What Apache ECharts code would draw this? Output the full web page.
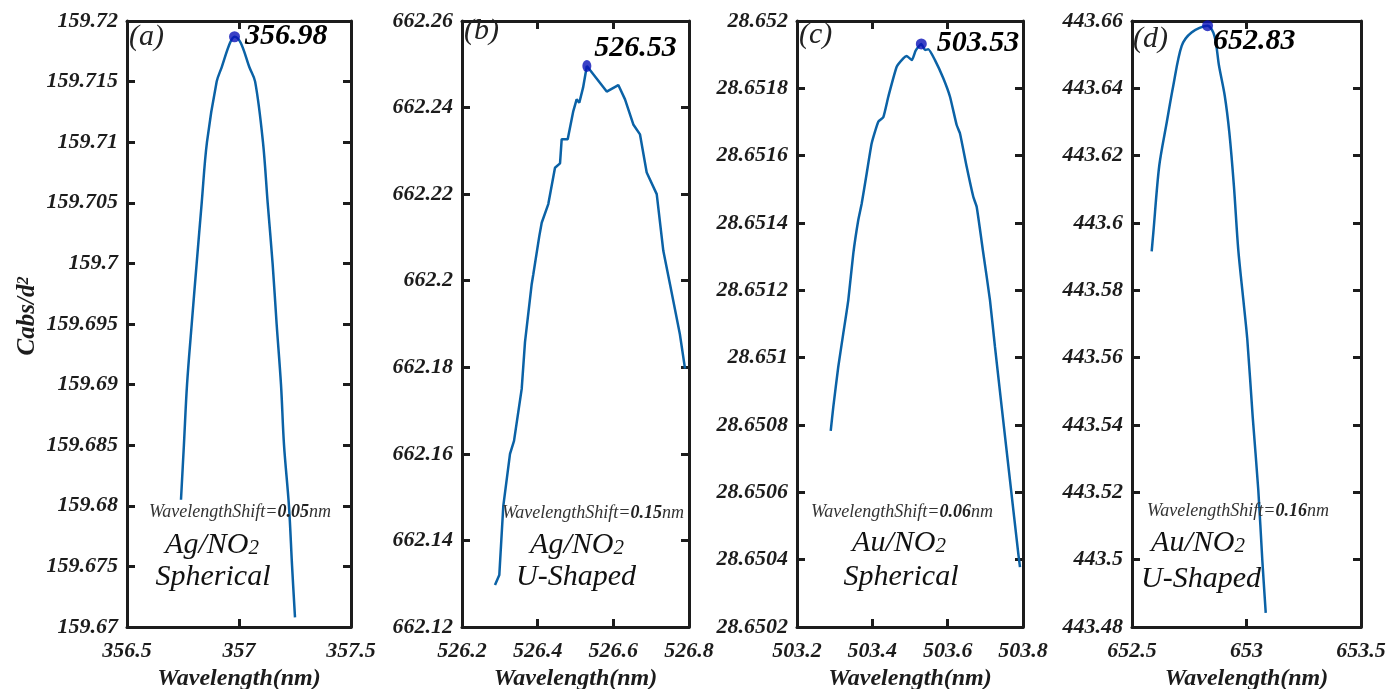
<!DOCTYPE html>
<html>
<head>
<meta charset="utf-8">
<script src="https://cdn.jsdelivr.net/npm/echarts@6/dist/echarts.min.js"></script>
<style>
  html, body { margin: 0; padding: 0; background: #fff; }
  #chart { width: 1386px; height: 689px; }
</style>
</head>
<body>
<div id="chart"></div>
<script>
// Normalised absorption (Cabs/d^2) around the plasmon resonance peak
// for four nanoparticle/NO2 configurations.

const panelLetters = ['(a)', '(b)', '(c)', '(d)'];
const materials = ['Ag/NO', 'Ag/NO', 'Au/NO', 'Au/NO'];
const shapes = ['Spherical', 'U-Shaped', 'Spherical', 'U-Shaped'];
const wavelengthShifts = ['0.05', '0.15', '0.06', '0.16'];

// Peak wavelength (nm) and peak Cabs/d^2 for each panel
const peakWavelengths = [356.98, 526.53, 503.53, 652.83];
const peakValues = [159.7187, 662.2496, 28.651932, 443.6586];

// Axis ranges: [min, max, step]
const xRanges = [[356.5, 357.5, 0.5], [526.2, 526.8, 0.2], [503.2, 503.8, 0.2], [652.5, 653.5, 0.5]];
const yRanges = [[159.67, 159.72, 0.005], [662.12, 662.26, 0.02], [28.6502, 28.652, 0.0002], [443.48, 443.66, 0.02]];

// Spectra: [wavelength (nm), Cabs/d^2]
const curveA = [
  [356.741, 159.6805], [356.754, 159.685], [356.768, 159.69], [356.789, 159.695],
  [356.811, 159.70], [356.8335, 159.705], [356.857, 159.71], [356.9004, 159.715],
  [356.923, 159.7162], [356.960, 159.7182], [356.98, 159.7187], [357.0075, 159.7182],
  [357.046, 159.7162], [357.072, 159.715], [357.107, 159.71], [357.128, 159.705],
  [357.150, 159.70], [357.168, 159.695], [357.1875, 159.69], [357.201, 159.685],
  [357.223, 159.68], [357.237, 159.675], [357.25, 159.6708]
];
const curveB = [
  [526.2872, 662.1297], [526.2986, 662.1320], [526.3092, 662.1480], [526.3269, 662.1600],
  [526.3375, 662.1630], [526.3578, 662.1750], [526.3665, 662.1858], [526.3842, 662.1992],
  [526.3885, 662.2015], [526.4043, 662.2103], [526.4107, 662.2134], [526.4281, 662.2177],
  [526.4458, 662.2261], [526.4591, 662.2271], [526.4635, 662.2327], [526.4794, 662.2327],
  [526.4942, 662.2392], [526.5030, 662.2419], [526.5100, 662.2411], [526.5200, 662.2446],
  [526.53, 662.2496], [526.5825, 662.2437], [526.6132, 662.2452], [526.6309, 662.2419],
  [526.6528, 662.2361], [526.6705, 662.2338], [526.6882, 662.2250], [526.7147, 662.2200],
  [526.7321, 662.2069], [526.7498, 662.1992], [526.7758, 662.1877], [526.7895, 662.1797]
];
const curveC = [
  [503.2895, 28.6507825], [503.2964, 28.650854], [503.3096, 28.650973], [503.3229, 28.651072],
  [503.3362, 28.651171], [503.3495, 28.651310], [503.3627, 28.651409], [503.3718, 28.651458],
  [503.3850, 28.651547], [503.3983, 28.651637], [503.4158, 28.651701], [503.4291, 28.651714],
  [503.4424, 28.651775], [503.4647, 28.651864], [503.4822, 28.651889], [503.4912, 28.651896],
  [503.5050, 28.651884], [503.5150, 28.651912], [503.53, 28.651932], [503.5400, 28.651914],
  [503.5486, 28.651916], [503.5663, 28.651884], [503.5884, 28.651830], [503.6062, 28.651775],
  [503.6239, 28.651691], [503.6327, 28.651666], [503.6505, 28.651567], [503.6680, 28.651478],
  [503.6770, 28.651448], [503.6946, 28.651310], [503.7123, 28.651171], [503.7256, 28.651032],
  [503.7434, 28.650854], [503.7654, 28.650636], [503.7875, 28.650418], [503.7920, 28.650378]
];
const curveD = [
  [652.586, 443.5916], [652.593, 443.597], [652.619, 443.617], [652.652, 443.630],
  [652.680, 443.6407], [652.717, 443.6526], [652.760, 443.6566], [652.83, 443.6586],
  [652.860, 443.6556], [652.880, 443.6467], [652.905, 443.6378], [652.925, 443.6269],
  [652.945, 443.611], [652.964, 443.5921], [652.986, 443.5773], [653.0035, 443.5654],
  [653.027, 443.5425], [653.0515, 443.5207], [653.069, 443.4999], [653.084, 443.4842]
];
const curves = [curveA, curveB, curveC, curveD];
const curveSmooth = [0.35, false, 0.15, 0.3];

// Layout of the four panels (pixels)
const panelLeft = [127, 462, 797, 1132];
const panelWidth = [224, 227, 226, 229];
const panelTop = 21;
const panelHeight = 606;

// Text placement inside each panel
const letterPos = [[129, 39], [464, 33], [799, 37], [1133, 41]];
const shiftPos = [[240, 512], [593, 513], [902, 512], [1238, 511]];
const materialPos = [[212, 545], [577, 545], [899, 543], [1198, 543]];
const shapePos = [[213, 577], [576, 577], [901, 577], [1201, 579]];
const peakLabelDist = [5, 3, 10, 0];
const peakLabelOffset = [[0, -1], [0, -18], [0, -1], [0, 16]];

const SERIF = '"Liberation Serif", "Times New Roman", serif';
const LINE_COLOR = '#0b62a6';
const DOT_COLOR = '#0a12b8';
const INK = '#1c1c1c';

function fmt(v) { return String(parseFloat(v.toFixed(5))); }

const grids = [], xAxes = [], yAxes = [], series = [], graphics = [];

for (let i = 0; i < 4; i++) {
  grids.push({
    left: panelLeft[i], top: panelTop, width: panelWidth[i], height: panelHeight,
    containLabel: false, outerBoundsMode: 'none'
  });

  const axisLine = { show: true, onZero: false, lineStyle: { color: INK, width: 3 } };
  const tick = { show: true, inside: true, length: 8, lineStyle: { color: INK, width: 3 } };
  const lbl = { fontFamily: SERIF, fontStyle: 'italic', fontWeight: 'bold', fontSize: 22, color: INK, formatter: fmt };

  // bottom (labelled) and top (mirrored ticks) x axes
  xAxes.push({
    type: 'value', gridIndex: i, position: 'bottom',
    min: xRanges[i][0], max: xRanges[i][1], interval: xRanges[i][2],
    axisLine, axisTick: tick, splitLine: { show: false },
    axisLabel: Object.assign({ margin: 13, showMinLabel: true, showMaxLabel: true, hideOverlap: false }, lbl),
    name: 'Wavelength(nm)', nameLocation: 'middle', nameGap: 40,
    nameTextStyle: { fontFamily: SERIF, fontStyle: 'italic', fontWeight: 'bold', fontSize: 24, color: INK }
  });
  xAxes.push({
    type: 'value', gridIndex: i, position: 'top',
    min: xRanges[i][0], max: xRanges[i][1], interval: xRanges[i][2],
    axisLine, axisTick: tick, splitLine: { show: false }, axisLabel: { show: false }
  });
  // left (labelled) and right (mirrored ticks) y axes
  yAxes.push({
    type: 'value', gridIndex: i, position: 'left',
    min: yRanges[i][0], max: yRanges[i][1], interval: yRanges[i][2],
    axisLine, axisTick: tick, splitLine: { show: false },
    axisLabel: Object.assign({ margin: 9, showMinLabel: true, showMaxLabel: true }, lbl)
  });
  yAxes.push({
    type: 'value', gridIndex: i, position: 'right',
    min: yRanges[i][0], max: yRanges[i][1], interval: yRanges[i][2],
    axisLine, axisTick: tick, splitLine: { show: false }, axisLabel: { show: false }
  });

  series.push({
    type: 'line', xAxisIndex: 2 * i, yAxisIndex: 2 * i,
    data: curves[i], showSymbol: false, symbol: 'none', smooth: curveSmooth[i],
    lineStyle: { color: LINE_COLOR, width: 2.5 }, z: 3, silent: true
  });
  series.push({
    type: 'scatter', xAxisIndex: 2 * i, yAxisIndex: 2 * i,
    data: [[peakWavelengths[i], peakValues[i]]],
    symbol: 'circle', symbolSize: i === 1 ? [9, 12] : 11,
    itemStyle: { color: DOT_COLOR }, z: 5, silent: true, clip: false,
    label: {
      show: true, position: 'right', distance: peakLabelDist[i], offset: peakLabelOffset[i],
      formatter: () => peakWavelengths[i].toFixed(2),
      fontFamily: SERIF, fontStyle: 'italic', fontWeight: 'bold', fontSize: 30,
      color: '#000', textBorderWidth: 0, opacity: 1
    }
  });

  // panel letter
  graphics.push({
    type: 'text', left: letterPos[i][0], top: letterPos[i][1] - 17, z: 10,
    style: { text: panelLetters[i], font: 'italic 30px ' + SERIF, fill: '#222' }
  });
  // wavelength shift note
  graphics.push({
    type: 'text', x: shiftPos[i][0], y: shiftPos[i][1], z: 10,
    style: {
      text: '{n|WavelengthShift=}{b|' + wavelengthShifts[i] + '}{n|nm}',
      align: 'center', verticalAlign: 'middle',
      rich: {
        n: { fontFamily: SERIF, fontStyle: 'italic', fontSize: 18, fill: '#333', verticalAlign: 'bottom' },
        b: { fontFamily: SERIF, fontStyle: 'italic', fontWeight: 'bold', fontSize: 18, fill: '#222', verticalAlign: 'bottom' }
      }
    }
  });
  // material
  graphics.push({
    type: 'text', x: materialPos[i][0], y: materialPos[i][1], z: 10,
    style: {
      text: '{m|' + materials[i] + '}{s|2}',
      align: 'center', verticalAlign: 'middle',
      rich: {
        m: { fontFamily: SERIF, fontStyle: 'italic', fontSize: 30, fill: '#111', verticalAlign: 'bottom' },
        s: { fontFamily: SERIF, fontStyle: 'italic', fontSize: 21, fill: '#111', verticalAlign: 'bottom', padding: [0, 0, 1, 0] }
      }
    }
  });
  // particle shape
  graphics.push({
    type: 'text', x: shapePos[i][0], y: shapePos[i][1], z: 10,
    style: { text: shapes[i], font: 'italic 30px ' + SERIF, fill: '#111', align: 'center', verticalAlign: 'middle' }
  });
}

// shared y-axis title
graphics.push({
  type: 'text', x: 28, y: 316, rotation: Math.PI / 2, z: 10,
  style: {
    text: '{a|Cabs/d}{s|2}', align: 'center', verticalAlign: 'middle',
    rich: {
      a: { fontFamily: SERIF, fontStyle: 'italic', fontWeight: 'bold', fontSize: 25, fill: INK, verticalAlign: 'bottom' },
      s: { fontFamily: SERIF, fontStyle: 'italic', fontWeight: 'bold', fontSize: 16, fill: INK, verticalAlign: 'top' }
    }
  }
});

const chart = echarts.init(document.getElementById('chart'), null, { renderer: 'canvas' });
chart.setOption({
  animation: false,
  backgroundColor: '#fff',
  grid: grids,
  xAxis: xAxes,
  yAxis: yAxes,
  series: series,
  graphic: graphics
});
</script>
</body>
</html>
